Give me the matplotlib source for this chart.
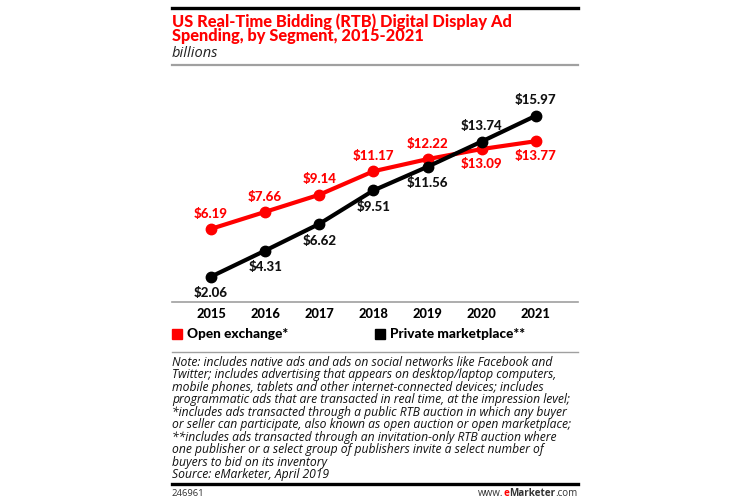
import matplotlib.pyplot as plt
from matplotlib.lines import Line2D

years = [2015, 2016, 2017, 2018, 2019, 2020, 2021]
open_exchange = [6.19, 7.66, 9.14, 11.17, 12.22, 13.09, 13.77]
private_mkt = [2.06, 4.31, 6.62, 9.51, 11.56, 13.74, 15.97]
# label above (+1) or below (-1) the point
open_pos = [1, 1, 1, 1, 1, -1, -1]
private_pos = [-1, -1, -1, -1, -1, 1, 1]

RED = '#ff0000'
W, H = 750, 503

fig = plt.figure(figsize=(7.5, 5.03), dpi=100)
L, R = 172 / W, 578 / W


def fy(py):
    return 1 - py / H


# header
fig.add_artist(Line2D([L, R], [fy(8), fy(8)], color='black', lw=2.4))
fig.text(L, fy(21.5), 'US Real-Time Bidding (RTB) Digital Display Ad', color=RED,
         family='Lato', weight='black', fontsize=11.8, va='center')
fig.text(L, fy(36.5), 'Spending, by Segment, 2015-2021', color=RED,
         family='Lato', weight='black', fontsize=11.8, va='center')
fig.text(L, fy(53.5), 'billions', color='#222222', family='Open Sans',
         style='italic', fontsize=10.5, va='center')
fig.add_artist(Line2D([L, R], [fy(65), fy(65)], color='#a0a0a0', lw=1.6))

# plot
ax = fig.add_axes([L, fy(302), R - L, fy(80) - fy(302)])
ax.plot(years, open_exchange, color=RED, lw=3, marker='o', ms=7.5,
        solid_capstyle='round', zorder=3)
ax.plot(years, private_mkt, color='black', lw=3, marker='o', ms=7.5,
        solid_capstyle='round', zorder=4)

for x, v, p in zip(years, open_exchange, open_pos):
    ax.annotate(f'${v:.2f}', (x, v), xytext=(0, 11 * p), textcoords='offset points',
                ha='center', va='center', color=RED, family='Lato',
                weight='black', fontsize=9.5)
for x, v, p in zip(years, private_mkt, private_pos):
    off = 11 if p > 0 else 12
    ax.annotate(f'${v:.2f}', (x, v), xytext=(0, off * p), textcoords='offset points',
                ha='center', va='center', color='#111111', family='Lato',
                weight='black', fontsize=9.5)

ax.set_xlim(2014.28, 2021.78)
ax.set_ylim(-0.13, 19.06)
for s in ['top', 'right', 'left']:
    ax.spines[s].set_visible(False)
ax.spines['bottom'].set_color('#a0a0a0')
ax.spines['bottom'].set_linewidth(1.2)
ax.set_yticks([])
ax.set_xticks(years)
ax.set_xticklabels([str(y) for y in years], family='Lato', weight='black',
                   fontsize=9.3)
ax.tick_params(axis='x', length=0, pad=4)

# legend
fig.add_artist(plt.Rectangle((L, fy(339)), 10 / W, 10 / H, color=RED,
                             transform=fig.transFigure))
fig.text(187 / W, fy(334), 'Open exchange*', family='Lato', weight='black',
         fontsize=9.8, va='center')
fig.add_artist(plt.Rectangle((375 / W, fy(339)), 10 / W, 10 / H, color='black',
                             transform=fig.transFigure))
fig.text(390 / W, fy(334), 'Private marketplace**', family='Lato', weight='black',
         fontsize=9.8, va='center')
fig.add_artist(Line2D([L, R], [fy(352), fy(352)], color='#a0a0a0', lw=1.0))

note_lines = [
    'Note: includes native ads and ads on social networks like Facebook and',
    'Twitter; includes advertising that appears on desktop/laptop computers,',
    'mobile phones, tablets and other internet-connected devices; includes',
    'programmatic ads that are transacted in real time, at the impression level;',
    '*includes ads transacted through a public RTB auction in which any buyer',
    'or seller can participate, also known as open auction or open marketplace;',
    '**includes ads transacted through an invitation-only RTB auction where',
    'one publisher or a select group of publishers invite a select number of',
    'buyers to bid on its inventory',
    'Source: eMarketer, April 2019',
]
for i, line in enumerate(note_lines):
    fig.text(L, fy(362 + i * 12.55), line, family='Open Sans', style='italic',
             fontsize=8.75, va='center', color='#111111')

fig.add_artist(Line2D([L, R], [fy(484), fy(484)], color='black', lw=2.4))
fig.text(L, fy(494), '246961', family='Open Sans', fontsize=6.8,
         va='center', color='#333333')
t1 = fig.text(R, fy(494), '.com', family='Open Sans', fontsize=7.1,
              va='center', ha='right', color='#333333')
fig.canvas.draw()
bb = t1.get_window_extent()
t2 = fig.text(bb.x0 / W, fy(494), 'Marketer', family='Open Sans', weight='bold',
              fontsize=7.1, va='center', ha='right', color='#333333')
bb = t2.get_window_extent()
t3 = fig.text(bb.x0 / W, fy(494), 'e', family='Open Sans', weight='bold',
              fontsize=7.1, va='center', ha='right', color=RED)
bb = t3.get_window_extent()
fig.text(bb.x0 / W, fy(494), 'www.', family='Open Sans', fontsize=7.1,
         va='center', ha='right', color='#333333')

fig.savefig('out.png', dpi=100)
